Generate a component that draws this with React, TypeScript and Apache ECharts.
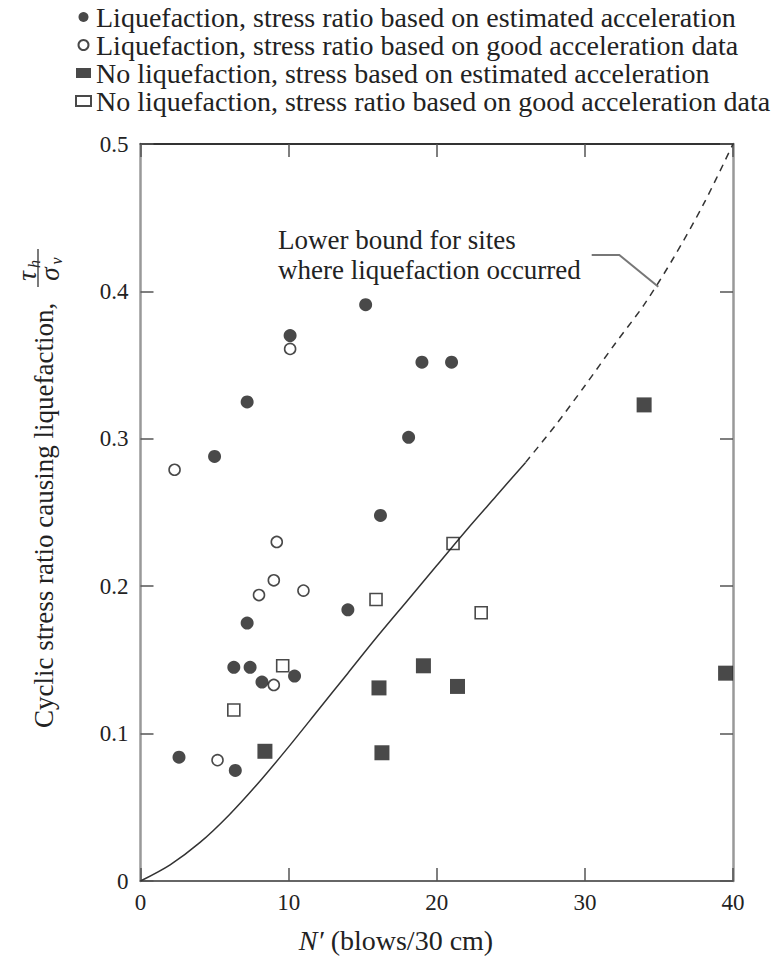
import React, { useEffect, useRef } from "react";
import * as echarts from "echarts";

// Liquefaction, stress ratio based on estimated acceleration (filled circles)
const liqEstimated: [number, number][] = [
  [15.2, 0.391], [10.1, 0.370], [19.0, 0.352], [21.0, 0.352], [7.2, 0.325],
  [18.1, 0.301], [5.0, 0.288], [16.2, 0.248], [14.0, 0.184], [7.2, 0.175],
  [6.3, 0.145], [7.4, 0.145], [8.2, 0.135], [10.4, 0.139], [2.6, 0.084], [6.4, 0.075],
];
// Liquefaction, stress ratio based on good acceleration data (open circles)
const liqGood: [number, number][] = [
  [10.1, 0.361], [2.3, 0.279], [9.2, 0.230], [9.0, 0.204], [8.0, 0.194],
  [11.0, 0.197], [9.0, 0.133], [5.2, 0.082],
];
// No liquefaction, stress based on estimated acceleration (filled squares)
const noLiqEstimated: [number, number][] = [
  [8.4, 0.088], [16.1, 0.131], [19.1, 0.146], [21.4, 0.132], [16.3, 0.087],
  [34.0, 0.323], [39.5, 0.141],
];
// No liquefaction, stress ratio based on good acceleration data (open squares)
const noLiqGood: [number, number][] = [
  [21.1, 0.229], [15.9, 0.191], [23.0, 0.182], [9.6, 0.146], [6.3, 0.116],
];
// Lower bound curve
const boundSolidN = [0, 2, 4, 6, 8, 10, 12, 14, 16, 18, 20, 22, 24, 26];
const boundSolidR = [0, 0.011, 0.026, 0.045, 0.067, 0.091, 0.116, 0.141, 0.166, 0.19, 0.214, 0.238, 0.261, 0.284];
const boundDashN = [26, 28, 30, 32, 34, 36, 38, 40];
const boundDashR = [0.284, 0.309, 0.336, 0.364, 0.391, 0.423, 0.459, 0.5];

const seriesNames = [
  "Liquefaction, stress ratio based on estimated acceleration",
  "Liquefaction, stress ratio based on good acceleration data",
  "No liquefaction, stress based on estimated acceleration",
  "No liquefaction, stress ratio based on good acceleration data",
];
const xTitle = "N′";
const xTitleRest = " (blows/30 cm)";
const yTitle = "Cyclic stress ratio causing liquefaction,";
const annotation = ["Lower bound for sites", "where liquefaction occurred"];

const FONT = "Liberation Serif";
const INK = "#1c1c1c";

export default function App() {
  const ref = useRef<HTMLDivElement>(null);
  useEffect(() => {
    if (!ref.current) return;
    const chart = echarts.init(ref.current, undefined, { renderer: "svg" });
    const axisCommon = {
      type: "value" as const,
      splitLine: { show: false },
      axisTick: { show: true, inside: true, length: 13, lineStyle: { color: "#555", width: 1.5 } },
    };
    const option: any = {
      animation: false,
      backgroundColor: "#fff",
      textStyle: { fontFamily: FONT },
      grid: { left: 140.5, right: 42, top: 144, bottom: 76, containLabel: false },
      legend: {
        data: seriesNames,
        orient: "vertical",
        left: 75,
        top: 3,
        padding: 0,
        itemWidth: 15,
        itemHeight: 10,
        itemGap: 0,
        selectedMode: false,
        textStyle: { fontFamily: FONT, fontSize: 28, color: "#222" },
      },
      xAxis: [
        {
          ...axisCommon,
          min: 0, max: 40, interval: 10, position: "bottom",
          axisLine: { show: true, onZero: false, lineStyle: { color: "#666", width: 2 } },
          axisLabel: { fontFamily: FONT, fontSize: 23, color: "#222", margin: 10 },
        },
        {
          ...axisCommon,
          min: 0, max: 40, interval: 10, position: "top",
          axisLine: { show: true, onZero: false, lineStyle: { color: "#333", width: 2 } },
          axisLabel: { show: false },
        },
      ],
      yAxis: [
        {
          ...axisCommon,
          min: 0, max: 0.5, interval: 0.1, position: "left",
          axisLine: { show: true, onZero: false, lineStyle: { color: "#999", width: 2.5 } },
          axisLabel: { fontFamily: FONT, fontSize: 23, color: "#222", margin: 12 },
        },
        {
          ...axisCommon,
          min: 0, max: 0.5, interval: 0.1, position: "right",
          axisLine: { show: true, onZero: false, lineStyle: { color: "#999", width: 2.5 } },
          axisLabel: { show: false },
        },
      ],
      series: [
        {
          name: "bound-solid", type: "line", showSymbol: false, smooth: 0.3,
          data: boundSolidN.map((n, i) => [n, boundSolidR[i]]),
          lineStyle: { color: "#333", width: 1.5 }, z: 3, silent: true,
        },
        {
          name: "bound-dashed", type: "line", showSymbol: false, smooth: 0.3,
          data: boundDashN.map((n, i) => [n, boundDashR[i]]),
          lineStyle: { color: "#333", width: 1.5, type: [7, 6] }, z: 3, silent: true,
        },
        {
          name: seriesNames[0], type: "scatter", symbol: "circle", symbolSize: 13,
          data: liqEstimated, itemStyle: { color: INK }, z: 4,
        },
        {
          name: seriesNames[1], type: "scatter", symbol: "circle", symbolSize: 11,
          data: liqGood, itemStyle: { color: "rgba(255,255,255,0)", borderColor: INK, borderWidth: 1.6 }, z: 4,
        },
        {
          name: seriesNames[2], type: "scatter", symbol: "rect", symbolSize: 15,
          data: noLiqEstimated, itemStyle: { color: INK }, z: 4,
        },
        {
          name: seriesNames[3], type: "scatter", symbol: "rect", symbolSize: 12,
          data: noLiqGood, itemStyle: { color: "rgba(255,255,255,0)", borderColor: INK, borderWidth: 1.6 }, z: 4,
        },
      ],
      graphic: [
        {
          type: "text", x: 396, y: 940, z: 10,
          style: {
            text: `{i|${xTitle}}${xTitleRest}`,
            fontFamily: FONT, fontSize: 28, fill: "#222", align: "center", verticalAlign: "middle",
            rich: { i: { fontFamily: FONT, fontSize: 28, fontStyle: "italic", fill: "#222" } },
          },
        },
        {
          type: "group", x: 44, y: 728, rotation: Math.PI / 2, z: 10,
          children: [
            { type: "text", x: 0, y: 0, style: { text: yTitle, fontFamily: FONT, fontSize: 27, fill: "#222", align: "left", verticalAlign: "middle" } },
            { type: "text", x: 452, y: -17, style: { text: "τ", fontFamily: FONT, fontSize: 27, fontStyle: "italic", fill: "#222", align: "center", verticalAlign: "middle" } },
            { type: "text", x: 464, y: -10, style: { text: "h", fontFamily: FONT, fontSize: 16, fontStyle: "italic", fill: "#222", align: "center", verticalAlign: "middle" } },
            { type: "line", shape: { x1: 441, y1: -6, x2: 479, y2: -6 }, style: { stroke: "#333", lineWidth: 1.3 } },
            { type: "text", x: 454, y: 6, style: { text: "σ", fontFamily: FONT, fontSize: 27, fontStyle: "italic", fill: "#222", align: "center", verticalAlign: "middle" } },
            { type: "text", x: 467, y: 12, style: { text: "v", fontFamily: FONT, fontSize: 16, fontStyle: "italic", fill: "#222", align: "center", verticalAlign: "middle" } },
          ],
        },
        {
          type: "text", x: 278, y: 240, z: 10,
          style: { text: annotation[0], fontFamily: FONT, fontSize: 27, fill: "#222", align: "left", verticalAlign: "middle" },
        },
        {
          type: "text", x: 278, y: 270, z: 10,
          style: { text: annotation[1], fontFamily: FONT, fontSize: 27, fill: "#222", align: "left", verticalAlign: "middle" },
        },
        {
          type: "polyline", z: 10,
          shape: { points: [[591.7, 255], [619.3, 255], [658.3, 286.7]] },
          style: { stroke: "#777", lineWidth: 2, fill: "none" },
        },
      ],
    };
    chart.setOption(option);
    return () => chart.dispose();
  }, []);
  return (
    <div
      ref={ref}
      style={{ position: "absolute", left: 0, top: 0, width: 775, height: 957, background: "#fff" }}
    />
  );
}
